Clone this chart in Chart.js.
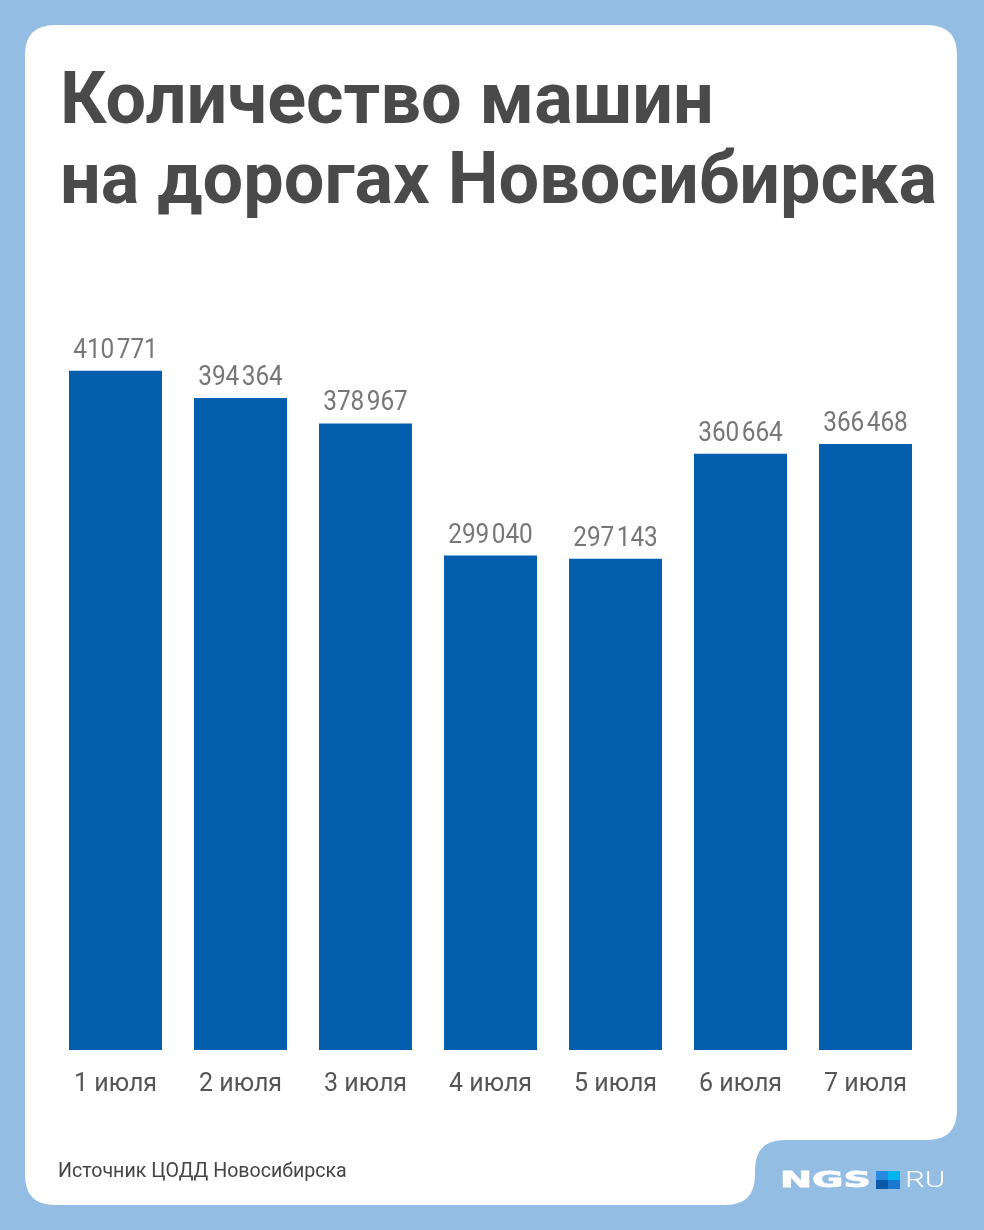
<!DOCTYPE html>
<html>
<head>
<meta charset="utf-8">
<script src="https://cdn.jsdelivr.net/npm/chart.js@4.4.1/dist/chart.umd.min.js"></script>
<style>
  html, body { margin: 0; padding: 0; }
  body { width: 984px; height: 1230px; position: relative; overflow: hidden; background: #93bde3; font-family: Roboto, sans-serif; }
  #bg { position: absolute; left: 0; top: 0; }
  #title { position: absolute; left: 60px; top: 59px; font-size: 72px; line-height: 80px; font-weight: 700; color: #4a4a4a; white-space: nowrap; }
  #source { position: absolute; left: 58px; top: 1158px; font-size: 19.6px; line-height: 26px; color: #444; white-space: nowrap; }
  #logo { position: absolute; left: 780px; top: 1167px; height: 26px; white-space: nowrap; }
  #ngs { position: absolute; left: 0; top: 0; font-family: "DejaVu Sans"; font-weight: 700; font-size: 22px; line-height: 26px; color: #fff; -webkit-text-stroke: 0.8px #fff; transform: scaleX(1.74); transform-origin: left center; }
  #sq { position: absolute; left: 96px; top: 4px; width: 24px; height: 18px; }
  #sq div { position: absolute; width: 12px; height: 9px; }
  #ru { position: absolute; left: 125px; top: 0; font-size: 22px; line-height: 26px; font-weight: 300; color: #fff; transform: scaleX(1.42); transform-origin: left center; }
  #wrap { position: absolute; left: 0; top: 0; width: 984px; height: 1230px; }
</style>
</head>
<body>
<svg id="bg" width="984" height="1230">
  <path fill="#ffffff" d="M 55 25 H 927 Q 957 25 957 55 V 1110 Q 957 1140 927 1140 H 785 Q 755 1140 755 1170 V 1175 Q 755 1205 725 1205 H 55 Q 25 1205 25 1175 V 55 Q 25 25 55 25 Z"/>
</svg>
<div id="title">Количество машин<br>на дорогах Новосибирска</div>
<div id="wrap"><canvas id="myChart"></canvas></div>
<div id="source">Источник ЦОДД Новосибирска</div>
<div id="logo">
  <span id="ngs">NGS</span>
  <div id="sq">
    <div style="left:0;top:0;background:#2a8ae0"></div>
    <div style="left:12px;top:0;background:#00b4f0"></div>
    <div style="left:0;top:9px;background:#0a58a8"></div>
    <div style="left:12px;top:9px;background:#1a78d0"></div>
  </div>
  <span id="ru">RU</span>
</div>
<script>
// данные
const days = ["1 июля", "2 июля", "3 июля", "4 июля", "5 июля", "6 июля", "7 июля"];
const cars = [410771, 394364, 378967, 299040, 297143, 360664, 366468];

function formatNum(v) {
  return String(v).replace(/\B(?=(\d{3})+(?!\d))/g, "\u200A");
}

// подписи над столбцами
const valueLabels = {
  id: "valueLabels",
  afterDatasetsDraw(chart) {
    const ctx = chart.ctx;
    const meta = chart.getDatasetMeta(0);
    ctx.save();
    ctx.font = "28px Roboto";
    ctx.fillStyle = "#777777";
    ctx.textAlign = "center";
    ctx.textBaseline = "alphabetic";
    meta.data.forEach((bar, i) => {
      ctx.save();
      ctx.translate(bar.x, bar.y - 13);
      ctx.scale(0.87, 1);
      ctx.fillText(formatNum(cars[i]), 0, 0);
      ctx.restore();
    });
    ctx.restore();
  },
};

const ctx = document.getElementById("myChart").getContext("2d");
new Chart(ctx, {
  type: "bar",
  data: {
    labels: days,
    datasets: [
      {
        data: cars,
        backgroundColor: "#045eae",
        borderWidth: 0,
        categoryPercentage: 1,
        barPercentage: 0.744,
      },
    ],
  },
  options: {
    responsive: true,
    maintainAspectRatio: false,
    animation: false,
    layout: { padding: { left: 53, right: 56, top: 306, bottom: 110 } },
    plugins: { legend: { display: false }, tooltip: { enabled: false } },
    scales: {
      y: { display: false, min: 0, max: 450000 },
      x: {
        grid: { display: false, drawTicks: false },
        border: { display: false },
        ticks: { color: "#555555", font: { family: "Roboto", size: 25 }, padding: 20 },
      },
    },
  },
  plugins: [valueLabels],
});
</script>
</body>
</html>
